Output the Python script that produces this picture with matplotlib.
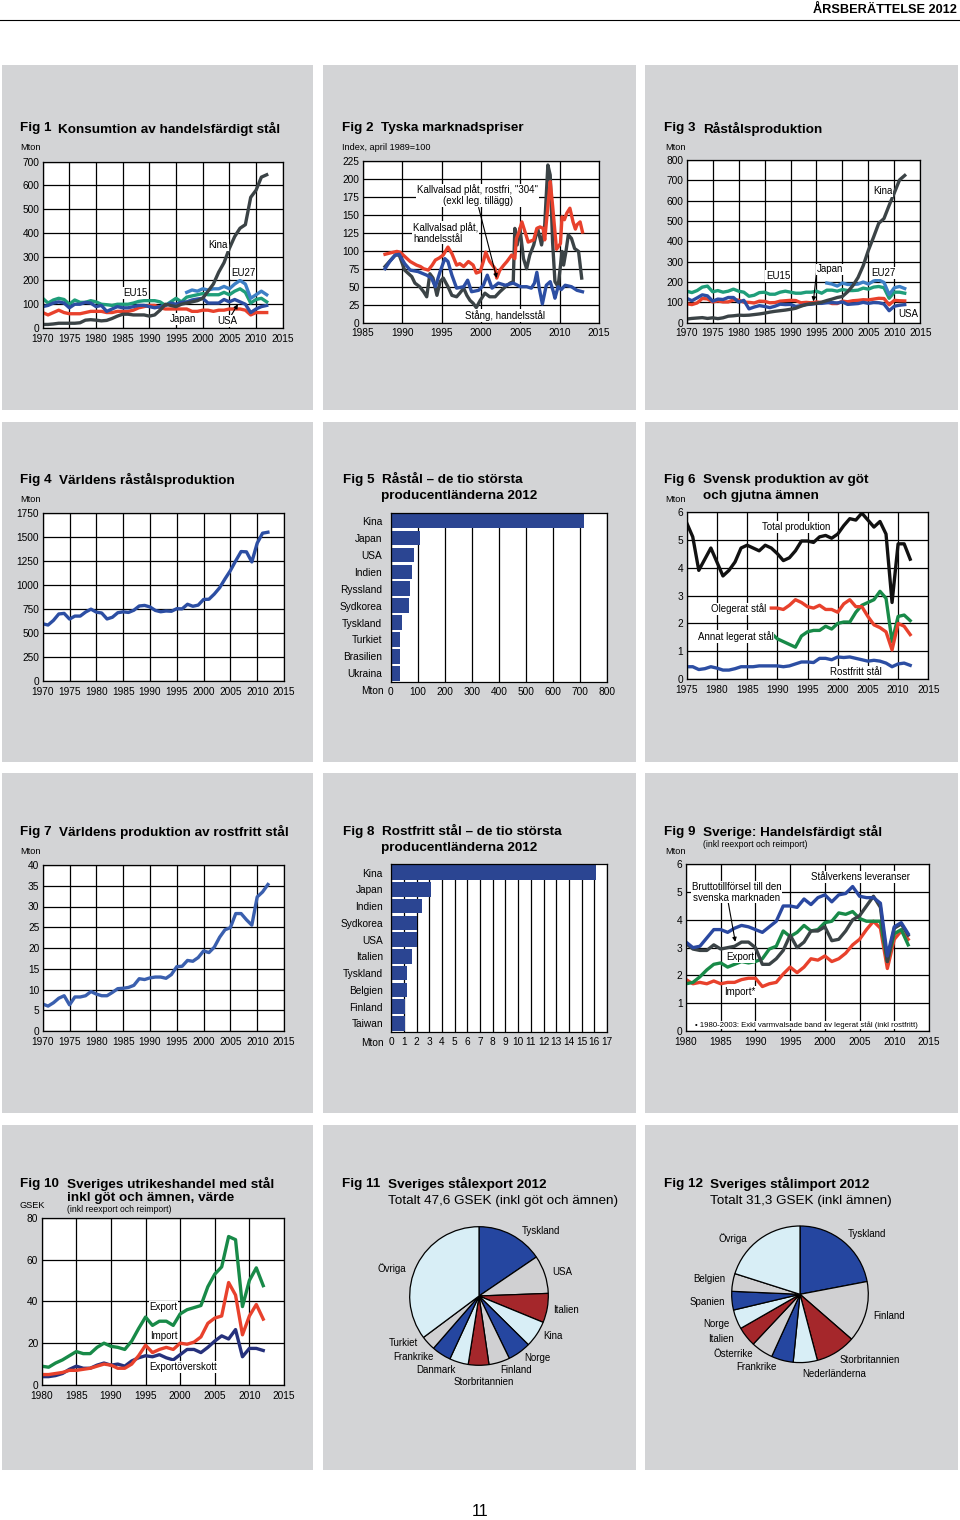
import numpy as np
import matplotlib
matplotlib.use('Agg')
import matplotlib.pyplot as plt
from matplotlib.patches import Rectangle
from matplotlib.lines import Line2D
from matplotlib.ticker import StrMethodFormatter

plt.rcParams['font.family'] = ['Liberation Sans', 'DejaVu Sans']

# ------------------------------------------------------------------ data
years_1970 = list(range(1970, 2013))
years_1975 = list(range(1975, 2013))
years_1980 = list(range(1980, 2013))
years_1989 = list(range(1989, 2013))
years_1997 = list(range(1997, 2013))

# Fig 1 Konsumtion av handelsfärdigt stål (Mton)
f1_kina = [15, 15, 17, 20, 20, 20, 20, 22, 33, 35,
           33, 30, 32, 40, 50, 58, 58, 55, 55, 55,
           50, 55, 75, 100, 95, 90, 100, 105, 110, 115,
           125, 155, 185, 235, 275, 335, 385, 420, 435, 550,
           580, 635, 645]
f1_eu15 = [125, 105, 118, 125, 120, 100, 118, 108, 108, 115,
           110, 100, 98, 95, 100, 100, 100, 105, 112, 115,
           115, 115, 110, 95, 110, 125, 110, 130, 135, 140,
           145, 140, 140, 140, 150, 140, 155, 165, 150, 105,
           120, 125, 110]
f1_usa = [90, 95, 105, 110, 105, 85, 100, 100, 108, 105,
          90, 95, 70, 80, 90, 85, 85, 90, 95, 95,
          90, 85, 90, 95, 105, 100, 108, 110, 118, 122,
          125, 105, 105, 105, 120, 110, 120, 110, 100, 65,
          80, 90, 95]
f1_japan = [65, 55, 65, 75, 65, 60, 60, 60, 65, 70,
            70, 70, 65, 65, 70, 70, 70, 75, 85, 90,
            95, 95, 85, 80, 80, 80, 80, 80, 70, 70,
            75, 75, 70, 75, 75, 80, 80, 80, 75, 55,
            65, 65, 65]
f1_eu27 = [150, 160, 155, 165, 160, 165, 165, 175, 165, 185, 200, 185, 125, 140, 155, 140]

# Fig 2 Tyska marknadspriser (index april 1989 = 100)
f2_rostfri_t = [1987.8, 1988.5, 1989.3, 1989.7, 1990.3, 1991.0, 1991.8, 1992.3, 1992.7, 1993.3,
                1993.8, 1994.2, 1994.7, 1995.2, 1995.8, 1996.3, 1996.9, 1997.3, 1997.8, 1998.4,
                1999.0, 1999.4, 1999.9, 2000.3, 2000.6, 2001.1, 2001.8, 2002.0, 2002.4, 2002.9,
                2003.3, 2003.9, 2004.3, 2004.5, 2004.8, 2005.2, 2005.6, 2006.0, 2006.7, 2007.1,
                2007.5, 2007.9, 2008.1, 2008.4, 2008.6, 2008.8, 2009.1, 2009.4, 2009.6, 2010.1,
                2010.3, 2010.6, 2010.9, 2011.3, 2011.7, 2012.0, 2012.2, 2012.6, 2012.9]
f2_rostfri_v = [95, 97, 99, 98, 92, 85, 80, 78, 75, 73,
                80, 87, 90, 94, 105, 96, 80, 82, 78, 85,
                80, 69, 71, 85, 98, 85, 75, 62, 73, 80,
                85, 94, 89, 117, 125, 140, 126, 112, 115, 131,
                133, 131, 115, 150, 173, 196, 163, 126, 102, 110,
                147, 143, 152, 159, 140, 130, 136, 140, 126]
f2_kallv_t = [1987.8, 1988.4, 1989.1, 1989.6, 1990.3, 1991.0, 1992.0, 1993.1, 1993.7, 1994.2,
              1994.8, 1995.4, 1995.8, 1996.3, 1996.9, 1997.8, 1998.3, 1998.8, 1999.7, 2000.3,
              2000.8, 2001.4, 2002.2, 2003.1, 2004.1, 2005.0, 2005.8, 2006.4, 2006.8, 2007.1,
              2007.4, 2007.8, 2008.3, 2008.8, 2009.2, 2009.4, 2009.8, 2010.2, 2010.7, 2011.5,
              2012.2, 2012.9]
f2_kallv_v = [75, 85, 94, 95, 82, 73, 71, 66, 62, 50,
              71, 89, 85, 66, 48, 50, 59, 43, 45, 52,
              66, 48, 55, 52, 55, 50, 50, 48, 55, 70,
              48, 26, 52, 57, 43, 34, 50, 46, 52, 50,
              45, 43]
f2_stang_t = [1987.8, 1989.1, 1989.6, 1990.3, 1991.2, 1991.6, 1992.2, 1992.7, 1993.1, 1993.5,
              1993.9, 1994.4, 1994.8, 1995.2, 1995.8, 1996.3, 1996.9, 1997.3, 1997.8, 1998.2,
              1998.6, 1999.0, 1999.4, 1999.9, 2000.5, 2001.1, 2001.8, 2002.4, 2003.1, 2003.7,
              2004.1, 2004.3, 2004.6, 2004.95, 2005.4, 2005.8, 2006.2, 2006.7, 2007.2, 2007.7,
              2008.1, 2008.5, 2008.8, 2009.1, 2009.4, 2009.8, 2010.3, 2010.5, 2010.8, 2011.1,
              2011.5, 2011.9, 2012.4, 2012.8]
f2_stang_v = [78, 94, 94, 73, 64, 55, 50, 43, 36, 68,
              62, 38, 57, 62, 50, 38, 36, 41, 48, 38,
              31, 27, 21, 31, 41, 36, 36, 43, 50, 55,
              57, 131, 108, 131, 89, 75, 94, 108, 131, 108,
              136, 219, 205, 112, 57, 50, 99, 80, 99, 122,
              117, 103, 99, 62]

# Fig 3 Råstålsproduktion (Mton)
f3_kina = [18, 21, 23, 25, 21, 24, 20, 24, 32, 34,
           37, 36, 37, 40, 43, 47, 52, 56, 59, 62,
           66, 71, 81, 89, 93, 95, 101, 109, 116, 124,
           129, 152, 182, 222, 280, 356, 421, 489, 512, 577,
           639, 702, 724]
f3_eu15 = [155, 148, 158, 175, 180, 152, 158, 150, 155, 165,
           155, 150, 130, 135, 148, 150, 140, 140, 150, 155,
           150, 145, 145, 150, 150, 155, 145, 160, 160, 155,
           163, 158, 158, 160, 170, 165, 175, 178, 172, 120,
           150, 150, 145]
f3_usa = [120, 108, 122, 137, 132, 106, 116, 114, 124, 124,
          101, 110, 68, 77, 84, 80, 74, 81, 91, 89,
          90, 80, 84, 89, 91, 95, 95, 98, 99, 97,
          102, 90, 92, 94, 100, 95, 99, 98, 92, 59,
          81, 86, 89]
f3_japan = [93, 89, 97, 119, 117, 102, 107, 102, 102, 112,
            111, 101, 100, 97, 106, 105, 98, 99, 106, 108,
            110, 109, 98, 100, 98, 102, 99, 104, 94, 94,
            106, 103, 108, 110, 113, 112, 116, 120, 119, 88,
            110, 108, 107]
f3_eu27 = [195, 190, 180, 195, 188, 188, 190, 200, 190, 205, 210, 198, 138, 172, 178, 168]

# Fig 4 Världens råstålsproduktion (Mton)
f4_world = [595, 582, 630, 697, 703, 644, 675, 675, 717, 747,
            716, 707, 645, 663, 710, 719, 713, 736, 780, 786,
            770, 734, 720, 728, 725, 752, 750, 798, 777, 789,
            848, 850, 904, 970, 1062, 1148, 1250, 1346, 1343, 1238,
            1433, 1537, 1547]

# Fig 5 Råstål – de tio största producentländerna 2012 (Mton)
f5_countries = ['Kina', 'Japan', 'USA', 'Indien', 'Ryssland', 'Sydkorea',
                'Tyskland', 'Turkiet', 'Brasilien', 'Ukraina']
f5_values = [716, 107, 88, 77, 70, 69, 43, 36, 35, 33]

# Fig 6 Svensk produktion av göt och gjutna ämnen (Mton)
f6_total = [5.6, 5.1, 3.9, 4.3, 4.7, 4.2, 3.7, 3.9, 4.2, 4.7,
            4.8, 4.7, 4.6, 4.8, 4.7, 4.5, 4.25, 4.35, 4.6, 4.95,
            4.95, 4.9, 5.1, 5.15, 5.05, 5.2, 5.5, 5.75, 5.7, 5.95,
            5.7, 5.45, 5.65, 5.2, 2.75, 4.85, 4.85, 4.3]
f6_rostfritt = [0.45, 0.45, 0.35, 0.38, 0.45, 0.4, 0.33, 0.33, 0.38, 0.45,
                0.45, 0.45, 0.48, 0.48, 0.48, 0.48, 0.45, 0.48, 0.55, 0.62,
                0.62, 0.6, 0.75, 0.75, 0.7, 0.8, 0.78, 0.8, 0.75, 0.7,
                0.65, 0.68, 0.65, 0.58, 0.45, 0.55, 0.58, 0.5]
f6_olegerat = [2.55, 2.55, 2.5, 2.65, 2.85, 2.75, 2.6, 2.55, 2.65, 2.5,
               2.5, 2.4, 2.7, 2.85, 2.6, 2.6, 2.25, 1.95, 1.85, 1.7,
               1.05, 2.0, 1.9, 1.6]
f6_annat = [1.65, 1.45, 1.35, 1.25, 1.15, 1.55, 1.7, 1.75, 1.75, 1.9,
            1.8, 2.0, 2.05, 2.05, 2.4, 2.65, 2.75, 2.85, 3.15, 2.9,
            1.35, 2.25, 2.3, 2.1]

# Fig 7 Världens produktion av rostfritt stål (Mton)
f7_world = [6.5, 6.0, 6.8, 7.9, 8.5, 6.3, 8.2, 8.2, 8.5, 9.5,
            8.9, 8.5, 8.5, 9.3, 10.2, 10.3, 10.5, 11.0, 12.6, 12.4,
            12.8, 13.0, 13.0, 12.7, 13.6, 15.5, 15.6, 17.0, 16.8, 17.7,
            19.3, 18.9, 20.2, 22.6, 24.4, 24.9, 28.3, 28.3, 26.8, 25.5,
            32.3, 33.5, 35.3]

# Fig 8 Rostfritt stål – de tio största producentländerna 2012 (Mton)
f8_countries = ['Kina', 'Japan', 'Indien', 'Sydkorea', 'USA', 'Italien',
                'Tyskland', 'Belgien', 'Finland', 'Taiwan']
f8_values = [16.1, 3.1, 2.45, 2.05, 2.0, 1.6, 1.25, 1.25, 1.05, 1.05]

# Fig 9 Sverige: Handelsfärdigt stål (Mton)
f9_leveranser = [3.2, 3.0, 3.05, 3.35, 3.65, 3.65, 3.55, 3.7, 3.8, 3.75,
                 3.65, 3.55, 3.75, 3.95, 4.5, 4.5, 4.45, 4.75, 4.55, 4.8,
                 4.9, 4.65, 4.9, 4.95, 5.2, 4.85, 4.8, 4.8, 4.6, 2.7,
                 3.75, 3.9, 3.5]
f9_export = [1.7, 1.75, 1.95, 2.2, 2.4, 2.45, 2.3, 2.4, 2.5, 2.45,
             2.5, 2.6, 2.95, 3.05, 3.6, 3.4, 3.55, 3.8, 3.6, 3.65,
             3.9, 3.95, 4.25, 4.2, 4.3, 4.05, 3.95, 3.95, 3.95, 2.5,
             3.5, 3.65, 3.1]
f9_brutto = [3.15, 2.95, 2.9, 2.9, 3.1, 2.95, 3.0, 3.05, 3.2, 3.2,
             3.0, 2.4, 2.4, 2.6, 2.9, 3.45, 3.0, 3.2, 3.6, 3.6,
             3.75, 3.25, 3.3, 3.6, 4.0, 4.15, 4.5, 4.85, 4.45, 2.5,
             3.7, 3.85, 3.45]
f9_import = [1.85, 1.7, 1.75, 1.7, 1.8, 1.7, 1.75, 1.75, 1.85, 1.9,
             1.9, 1.6, 1.7, 1.75, 2.05, 2.3, 2.1, 2.3, 2.6, 2.55,
             2.7, 2.5, 2.6, 2.8, 3.1, 3.3, 3.65, 3.95, 3.7, 2.25,
             3.3, 3.6, 3.3]

# Fig 10 Sveriges utrikeshandel med stål (GSEK)
f10_export = [9, 8.5, 10.5, 12, 14, 16, 15, 15, 18, 20,
              18.5, 18, 17, 21, 27, 32.5, 28.5, 30.5, 30.5, 28.5,
              34, 36, 37, 38, 47, 53, 56.5, 71, 69.5, 37.5,
              50, 56, 47.5]
f10_import = [5, 5, 5.5, 6, 7, 7, 7.5, 8, 9, 10,
              9.5, 8, 8, 10, 14, 19, 15.5, 17, 18, 17,
              20, 19.5, 20.5, 23, 29.5, 32, 33, 49, 43, 24,
              33, 38.5, 31.5]
f10_overskott = [4, 4, 4.5, 5.5, 7.5, 9, 8, 8, 9.5, 10.5,
                 9.5, 10, 9, 11.5, 13, 14, 13.5, 14.5, 13, 12,
                 14.5, 17, 17, 15.5, 18, 21, 23.5, 22, 26.5, 13.5,
                 17.5, 17.5, 16.5]

# Fig 11 Sveriges stålexport 2012 (andel, %)
f11_labels = ['Tyskland', 'USA', 'Italien', 'Kina', 'Norge', 'Finland',
              'Storbritannien', 'Danmark', 'Frankrike', 'Turkiet', 'Övriga']
f11_values = [15.5, 8.9, 6.8, 6.2, 5.4, 4.9, 4.8, 4.4, 4.5, 3.4, 35.2]

# Fig 12 Sveriges stålimport 2012 (andel, %)
f12_labels = ['Tyskland', 'Finland', 'Storbritannien', 'Nederländerna', 'Frankrike',
              'Österrike', 'Italien', 'Norge', 'Spanien', 'Belgien', 'Övriga']
f12_values = [22.0, 14.4, 9.5, 5.7, 5.2, 5.2, 4.7, 4.6, 4.4, 4.2, 20.1]

# ------------------------------------------------------------------ style
W, H = 960, 1520
PANEL = '#d3d4d6'
C_GRAY = '#3b4346'
C_RED = '#e8412c'
C_TEAL = '#1f9e7a'
C_LBLUE = '#3d80c6'
C_BLUE = '#2c4ea3'
C_GREEN = '#188a48'
C_NAVY = '#26317c'
C_BAR = '#2b4592'
P_BLUE, P_GRAY, P_RED, P_LIGHT = '#2546a0', '#d0d0d2', '#a5272b', '#d8eef6'
PIE_COLS = [P_BLUE, P_GRAY, P_RED, P_LIGHT, P_BLUE, P_GRAY, P_RED, P_LIGHT,
            P_BLUE, P_GRAY, P_LIGHT]
LW = 2.4
TICK = 7.3
LBL = 7.0
TITLE = 9.7
WBOX = dict(facecolor='white', edgecolor='none', pad=0.6)

fig = plt.figure(figsize=(W / 100, H / 100), dpi=100)
fig.patch.set_facecolor('white')


def ptext(x, y, s, **kw):
    kw.setdefault('ha', 'left')
    kw.setdefault('va', 'center')
    return fig.text(x / W, 1 - y / H, s, **kw)


def box_axes(l, t, r, b):
    return fig.add_axes([l / W, 1 - b / H, (r - l) / W, (b - t) / H])


def title(x0, y, num, text, off=39):
    ptext(x0, y, num, fontsize=TITLE, fontweight='bold')
    ptext(x0 + off, y, text, fontsize=TITLE, fontweight='bold')


def label(ax, x, y, s, ha='center', **kw):
    ax.text(x, y, s, fontsize=LBL, ha=ha, va='center', bbox=WBOX, zorder=4, **kw)


def line_axes(box, xlim, xstep, ylim, ystep):
    ax = box_axes(*box)
    ax.set_facecolor('white')
    ax.set_xlim(*xlim)
    ax.set_ylim(*ylim)
    ax.set_xticks(np.arange(xlim[0], xlim[1] + 0.01, xstep))
    ax.set_yticks(np.arange(ylim[0], ylim[1] + 0.01, ystep))
    ax.xaxis.set_major_formatter(StrMethodFormatter('{x:.0f}'))
    ax.yaxis.set_major_formatter(StrMethodFormatter('{x:.0f}'))
    ax.grid(True, color='black', linewidth=0.9)
    ax.set_axisbelow(True)
    ax.tick_params(length=0, labelsize=TICK)
    ax.tick_params(axis='x', pad=4)
    ax.tick_params(axis='y', pad=2.5)
    for s in ax.spines.values():
        s.set_linewidth(0.9)
    return ax


def bar_axes(box, names, vals, xmax, xstep):
    ax = box_axes(*box)
    ax.set_facecolor('white')
    y = np.arange(len(names))
    ax.barh(y, vals, height=0.86, color=C_BAR, zorder=2)
    ax.set_ylim(len(names) - 0.5, -0.5)
    ax.set_xlim(0, xmax)
    ax.set_yticks(y)
    ax.set_yticklabels(names)
    ax.set_xticks(np.arange(0, xmax + 0.01, xstep))
    ax.xaxis.set_major_formatter(StrMethodFormatter('{x:.0f}'))
    ax.grid(True, axis='x', color='black', linewidth=0.9, zorder=1)
    ax.set_axisbelow(True)
    ax.tick_params(length=0, labelsize=TICK)
    ax.tick_params(axis='x', pad=4)
    ax.tick_params(axis='y', pad=6)
    for s in ax.spines.values():
        s.set_linewidth(0.9)
    return ax


def pie_axes(cx, cy, r, vals):
    m = 1.03
    ax = box_axes(cx - r * m, cy - r * m, cx + r * m, cy + r * m)
    ax.pie(vals, colors=PIE_COLS[:len(vals)], startangle=90, counterclock=False,
           wedgeprops={'edgecolor': 'black', 'linewidth': 0.9})
    ax.set_xlim(-m, m)
    ax.set_ylim(-m, m)
    ax.set_aspect('equal')
    ax.axis('off')
    return ax


# ------------------------------------------------------------------ page
fig.add_artist(Line2D([0, 1], [1 - 20 / H, 1 - 20 / H], transform=fig.transFigure,
                      color='black', linewidth=0.8))
ptext(957, 10, 'ÅRSBERÄTTELSE 2012', ha='right', fontsize=9.2, fontweight='bold')
ptext(480, 1511, '11', ha='center', fontsize=11.5)

cols_x = [(2, 313), (323, 636), (645, 958)]
rows_y = [(65, 410), (422, 762), (773, 1113), (1125, 1470)]
for (y0, y1) in rows_y:
    for (x0, x1) in cols_x:
        fig.add_artist(Rectangle((x0 / W, 1 - y1 / H), (x1 - x0) / W, (y1 - y0) / H,
                                 transform=fig.transFigure, facecolor=PANEL,
                                 edgecolor='none', zorder=-5))

arrow_kw = dict(arrowstyle='-|>', color='black', lw=0.8, mutation_scale=6,
                shrinkA=0, shrinkB=0)

# ---- Fig 1
title(19.5, 128.5, 'Fig 1', 'Konsumtion av handelsfärdigt stål')
ptext(20, 148, 'Mton', fontsize=6.6)
ax = line_axes((42.7, 161.7, 282.7, 328), (1970, 2015), 5, (0, 700), 100)
ax.plot(years_1970, f1_japan, color=C_RED, lw=LW)
ax.plot(years_1970, f1_eu15, color=C_TEAL, lw=LW)
ax.plot(years_1970, f1_usa, color=C_BLUE, lw=LW)
ax.plot(years_1997, f1_eu27, color=C_LBLUE, lw=LW)
ax.plot(years_1970, f1_kina, color=C_GRAY, lw=LW)
label(ax, 2002.9, 349, 'Kina')
label(ax, 2007.6, 231, 'EU27')
label(ax, 1987.3, 147, 'EU15')
label(ax, 1996.3, 38, 'Japan')
label(ax, 2004.6, 29, 'USA')
ax.annotate('', xy=(2006.6, 100), xytext=(2005.4, 55), arrowprops=arrow_kw)

# ---- Fig 2
title(342, 128.5, 'Fig 2', 'Tyska marknadspriser')
ptext(342, 148, 'Index, april 1989=100', fontsize=6.6)
ax = line_axes((363, 160.7, 599, 322.7), (1985, 2015), 5, (0, 225), 25)
ax.plot(f2_stang_t, f2_stang_v, color=C_GRAY, lw=LW)
ax.plot(f2_rostfri_t, f2_rostfri_v, color=C_RED, lw=LW)
ax.plot(f2_kallv_t, f2_kallv_v, color=C_BLUE, lw=LW)
ax.annotate('', xy=(2002.0, 62), xytext=(1999.7, 160), arrowprops=arrow_kw, zorder=3)
label(ax, 1999.6, 177, 'Kallvalsad plåt, rostfri, "304"\n(exkl leg. tillägg)', linespacing=1.1)
label(ax, 1991.4, 125, 'Kallvalsad plåt,\nhandelsstål', ha='left', linespacing=1.1)
label(ax, 2003.0, 10, 'Stång, handelsstål')

# ---- Fig 3
title(664, 128.5, 'Fig 3', 'Råstålsproduktion')
ptext(665, 148, 'Mton', fontsize=6.6)
ax = line_axes((686.7, 160, 920.3, 322.7), (1970, 2015), 5, (0, 800), 100)
ax.plot(years_1970, f3_japan, color=C_RED, lw=LW)
ax.plot(years_1970, f3_eu15, color=C_TEAL, lw=LW)
ax.plot(years_1970, f3_usa, color=C_BLUE, lw=LW)
ax.plot(years_1997, f3_eu27, color=C_LBLUE, lw=LW)
ax.plot(years_1970, f3_kina, color=C_GRAY, lw=LW)
label(ax, 2007.8, 649, 'Kina')
label(ax, 1987.6, 230, 'EU15')
label(ax, 1997.6, 262, 'Japan')
label(ax, 2007.8, 243, 'EU27')
label(ax, 2012.7, 43, 'USA')
ax.annotate('', xy=(1994.4, 105), xytext=(1995.0, 245), arrowprops=arrow_kw)

# ---- Fig 4
title(20, 480, 'Fig 4', 'Världens råstålsproduktion')
ptext(20, 500, 'Mton', fontsize=6.6)
ax = line_axes((42.7, 512.7, 284, 681), (1970, 2015), 5, (0, 1750), 250)
ax.plot(years_1970, f4_world, color=C_BLUE, lw=LW)

# ---- Fig 5
title(343, 480, 'Fig 5', 'Råstål – de tio största')
ptext(381, 496.5, 'producentländerna 2012', fontsize=TITLE, fontweight='bold')
ax = bar_axes((390.7, 512.7, 607, 681.7), f5_countries, f5_values, 800, 100)
ptext(384, 691, 'Mton', fontsize=TICK, ha='right')

# ---- Fig 6
title(664, 480, 'Fig 6', 'Svensk produktion av göt')
ptext(703, 496.5, 'och gjutna ämnen', fontsize=TITLE, fontweight='bold')
ptext(665, 500, 'Mton', fontsize=6.6)
ax = line_axes((686.7, 511.7, 928.3, 679.3), (1975, 2015), 5, (0, 6), 1)
ax.plot(years_1975, f6_rostfritt, color=C_BLUE, lw=LW)
ax.plot(years_1989, f6_annat, color=C_GREEN, lw=LW)
ax.plot(years_1989, f6_olegerat, color=C_RED, lw=LW)
ax.plot(years_1975, f6_total, color='#111111', lw=LW)
label(ax, 1993.2, 5.46, 'Total produktion')
label(ax, 1988.2, 2.52, 'Olegerat stål', ha='right')
label(ax, 1983.1, 1.53, 'Annat legerat stål')
label(ax, 2003.0, 0.25, 'Rostfritt stål')

# ---- Fig 7
title(20, 831.5, 'Fig 7', 'Världens produktion av rostfritt stål')
ptext(20, 852, 'Mton', fontsize=6.6)
ax = line_axes((42.7, 865, 284, 1031), (1970, 2015), 5, (0, 40), 5)
ax.plot(years_1970, f7_world, color='#3a5fae', lw=LW)

# ---- Fig 8
title(343, 831.5, 'Fig 8', 'Rostfritt stål – de tio största')
ptext(381, 847.5, 'producentländerna 2012', fontsize=TITLE, fontweight='bold')
ax = bar_axes((391.3, 864.3, 607, 1031.7), f8_countries, f8_values, 17, 1)
ptext(384, 1043, 'Mton', fontsize=TICK, ha='right')

# ---- Fig 9
title(664, 831.5, 'Fig 9', 'Sverige: Handelsfärdigt stål')
ptext(703, 844.3, '(inkl reexport och reimport)', fontsize=6.2)
ptext(665, 852, 'Mton', fontsize=6.6)
ax = line_axes((686, 864.3, 929, 1031), (1980, 2015), 5, (0, 6), 1)
ax.plot(years_1980, f9_import, color=C_RED, lw=LW)
ax.plot(years_1980, f9_export, color=C_GREEN, lw=LW)
ax.plot(years_1980, f9_brutto, color=C_GRAY, lw=LW)
ax.plot(years_1980, f9_leveranser, color='#2a48a0', lw=LW)
ax.annotate('', xy=(1987.1, 3.21), xytext=(1986.1, 4.6), arrowprops=arrow_kw, zorder=3)
label(ax, 2005.1, 5.55, 'Stålverkens leveranser')
label(ax, 1987.3, 4.99, 'Bruttotillförsel till den\nsvenska marknaden', linespacing=1.05)
label(ax, 1987.8, 2.67, 'Export')
label(ax, 1987.8, 1.41, 'Import*')
ax.text(1997.3, 0.22, '• 1980-2003: Exkl varmvalsade band av legerat stål (inkl rostfritt)',
        fontsize=5.6, ha='center', va='center', zorder=4,
        bbox=dict(facecolor='white', edgecolor='none', pad=0.3))

# ---- Fig 10
title(20, 1184, 'Fig 10', 'Sveriges utrikeshandel med stål', off=47)
ptext(67, 1197.5, 'inkl göt och ämnen, värde', fontsize=TITLE, fontweight='bold')
ptext(67, 1210, '(inkl reexport och reimport)', fontsize=6.2)
ptext(20, 1205, 'GSEK', fontsize=6.6)
ax = line_axes((41.7, 1217.7, 284, 1385), (1980, 2015), 5, (0, 80), 20)
ax.plot(years_1980, f10_overskott, color=C_NAVY, lw=LW)
ax.plot(years_1980, f10_import, color=C_RED, lw=LW)
ax.plot(years_1980, f10_export, color=C_GREEN, lw=LW)
label(ax, 1997.6, 37.2, 'Export')
label(ax, 1997.6, 23.6, 'Import')
label(ax, 2000.5, 8.5, 'Exportöverskott')

# ---- Fig 11
title(342, 1184, 'Fig 11', 'Sveriges stålexport 2012', off=46)
ptext(388, 1200.7, 'Totalt 47,6 GSEK (inkl göt och ämnen)', fontsize=TITLE)
pie_axes(479, 1296, 69.3, f11_values)
f11_pos = [(541.3, 1230.7), (562.3, 1271.7), (566.3, 1310), (553, 1336), (537.3, 1358.3),
           (515.7, 1370), (484, 1381.7), (435.7, 1370), (413, 1357.3), (403.7, 1343.3),
           (392, 1269)]
for name, (px, py) in zip(f11_labels, f11_pos):
    ptext(px, py, name, fontsize=LBL, ha='center')

# ---- Fig 12
title(664, 1184, 'Fig 12', 'Sveriges stålimport 2012', off=46)
ptext(710, 1200.7, 'Totalt 31,3 GSEK (inkl ämnen)', fontsize=TITLE)
pie_axes(800, 1294.3, 68.3, f12_values)
f12_pos = [(866.7, 1234), (889, 1315.7), (870, 1360), (834, 1374), (756.7, 1367.3),
           (733.3, 1354), (720.7, 1339.3), (716, 1324), (707.7, 1301.7), (709.3, 1279),
           (733.3, 1239)]
for name, (px, py) in zip(f12_labels, f12_pos):
    ptext(px, py, name, fontsize=LBL, ha='center')

fig.savefig('out.png', dpi=100, facecolor='white')
